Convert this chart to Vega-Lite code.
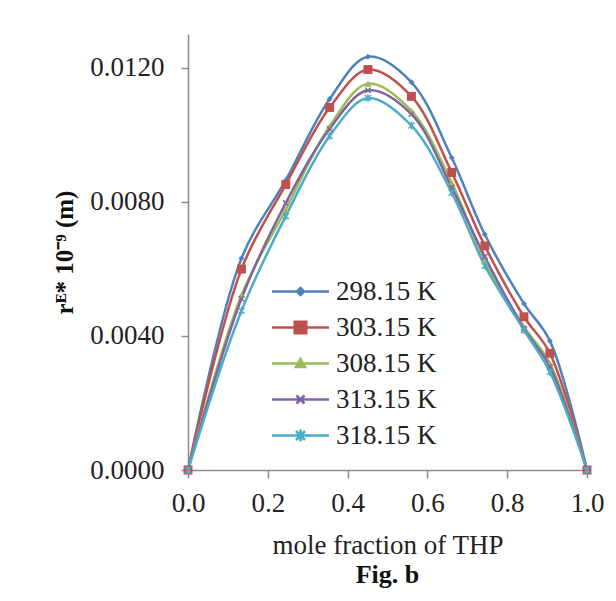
{
  "$schema": "https://vega.github.io/schema/vega-lite/v6.json",
  "autosize": {"type": "none"},
  "padding": {"left": 188, "top": 34, "right": 29, "bottom": 131},
  "width": 399,
  "height": 436,
  "background": "white",
  "title": {"text": "Fig. b", "orient": "bottom", "font": "Liberation Serif", "fontSize": 26, "fontWeight": "bold", "color": "#111", "offset": 4, "anchor": "middle"},
  "config": {"view": {"stroke": null}},
  "data": {"values": [
    {"x": 0, "T": "298.15 K", "y": 0},
    {"x": 0.134, "T": "298.15 K", "y": 0.00631},
    {"x": 0.245, "T": "298.15 K", "y": 0.00864},
    {"x": 0.355, "T": "298.15 K", "y": 0.01106},
    {"x": 0.451, "T": "298.15 K", "y": 0.01232},
    {"x": 0.56, "T": "298.15 K", "y": 0.01156},
    {"x": 0.661, "T": "298.15 K", "y": 0.00931},
    {"x": 0.744, "T": "298.15 K", "y": 0.00702},
    {"x": 0.842, "T": "298.15 K", "y": 0.00496},
    {"x": 0.907, "T": "298.15 K", "y": 0.00385},
    {"x": 1, "T": "298.15 K", "y": 0},
    {"x": 0, "T": "303.15 K", "y": 0},
    {"x": 0.134, "T": "303.15 K", "y": 0.00599},
    {"x": 0.245, "T": "303.15 K", "y": 0.00851},
    {"x": 0.355, "T": "303.15 K", "y": 0.01081},
    {"x": 0.451, "T": "303.15 K", "y": 0.01194},
    {"x": 0.56, "T": "303.15 K", "y": 0.01114},
    {"x": 0.661, "T": "303.15 K", "y": 0.00887},
    {"x": 0.744, "T": "303.15 K", "y": 0.00668},
    {"x": 0.842, "T": "303.15 K", "y": 0.00457},
    {"x": 0.907, "T": "303.15 K", "y": 0.00348},
    {"x": 1, "T": "303.15 K", "y": 0},
    {"x": 0, "T": "308.15 K", "y": 0},
    {"x": 0.134, "T": "308.15 K", "y": 0.00521},
    {"x": 0.245, "T": "308.15 K", "y": 0.00777},
    {"x": 0.355, "T": "308.15 K", "y": 0.01025},
    {"x": 0.451, "T": "308.15 K", "y": 0.01152},
    {"x": 0.56, "T": "308.15 K", "y": 0.01071},
    {"x": 0.661, "T": "308.15 K", "y": 0.00857},
    {"x": 0.744, "T": "308.15 K", "y": 0.00622},
    {"x": 0.842, "T": "308.15 K", "y": 0.00427},
    {"x": 0.907, "T": "308.15 K", "y": 0.00318},
    {"x": 1, "T": "308.15 K", "y": 0},
    {"x": 0, "T": "313.15 K", "y": 0},
    {"x": 0.134, "T": "313.15 K", "y": 0.00511},
    {"x": 0.245, "T": "313.15 K", "y": 0.00796},
    {"x": 0.355, "T": "313.15 K", "y": 0.01017},
    {"x": 0.451, "T": "313.15 K", "y": 0.01132},
    {"x": 0.56, "T": "313.15 K", "y": 0.01061},
    {"x": 0.661, "T": "313.15 K", "y": 0.00842},
    {"x": 0.744, "T": "313.15 K", "y": 0.00636},
    {"x": 0.842, "T": "313.15 K", "y": 0.00422},
    {"x": 0.907, "T": "313.15 K", "y": 0.00308},
    {"x": 1, "T": "313.15 K", "y": 0},
    {"x": 0, "T": "318.15 K", "y": 0},
    {"x": 0.134, "T": "318.15 K", "y": 0.00475},
    {"x": 0.245, "T": "318.15 K", "y": 0.00757},
    {"x": 0.355, "T": "318.15 K", "y": 0.00996},
    {"x": 0.451, "T": "318.15 K", "y": 0.01109},
    {"x": 0.56, "T": "318.15 K", "y": 0.01027},
    {"x": 0.661, "T": "318.15 K", "y": 0.00827},
    {"x": 0.744, "T": "318.15 K", "y": 0.00609},
    {"x": 0.842, "T": "318.15 K", "y": 0.00417},
    {"x": 0.907, "T": "318.15 K", "y": 0.00292},
    {"x": 1, "T": "318.15 K", "y": 0}
  ]},
  "encoding": {
    "x": {"field": "x", "type": "quantitative", "scale": {"domain": [0, 1], "nice": false, "zero": false},
      "axis": {"title": "mole fraction of THP", "values": [0, 0.2, 0.4, 0.6, 0.8, 1.0], "format": ".1f", "grid": false,
        "domainColor": "#8c8c8c", "domainWidth": 1.5, "tickColor": "#8c8c8c", "tickWidth": 1.5, "tickSize": 8,
        "labelFont": "Liberation Serif", "labelFontSize": 27, "labelColor": "#222", "labelPadding": 12, "labelFlush": false,
        "titleFont": "Liberation Serif", "titleFontSize": 27, "titleFontWeight": "normal", "titleColor": "#222", "titlePadding": 16}},
    "y": {"field": "y", "type": "quantitative", "scale": {"domain": [0, 0.013], "nice": false},
      "axis": {"title": "rᴱ* 10⁻⁹ (m)", "values": [0, 0.004, 0.008, 0.012], "format": ".4f", "grid": false,
        "domainColor": "#8c8c8c", "domainWidth": 1.5, "tickColor": "#8c8c8c", "tickWidth": 1.5, "tickSize": 7,
        "labelFont": "Liberation Serif", "labelFontSize": 27, "labelColor": "#222", "labelPadding": 17, "labelFlush": false,
        "titleFont": "Liberation Serif", "titleFontSize": 25, "titleFontWeight": "bold", "titleColor": "#111", "titlePadding": 12}},
    "color": {"field": "T", "type": "nominal",
      "scale": {"domain": ["298.15 K", "303.15 K", "308.15 K", "313.15 K", "318.15 K"], "range": ["#4F81BD", "#C0504D", "#9BBB59", "#8064A2", "#4BACC6"]},
      "legend": null}
  },
  "layer": [
    {
      "mark": {"type": "line", "interpolate": "catmull-rom", "strokeWidth": 2.5},
      "encoding": {
        "color": {"field": "T", "type": "nominal",
          "legend": {"orient": "none", "legendX": 99, "legendY": 244, "title": null, "padding": 0,
            "symbolSize": 100, "symbolStrokeWidth": 2.5, "labelOffset": 22, "rowPadding": 8,
            "labelFont": "Liberation Serif", "labelFontSize": 27, "labelColor": "#222", "labelLimit": 300,
            "encode": {"symbols": {"update": {
              "shape": {"signal": "datum.value === '298.15 K' ? 'M-5.7,0H5.7M0,-0.7L0.7,0L0,0.7L-0.7,0Z' : datum.value === '303.15 K' ? 'M-5.7,0H5.7M-1.15,-1.15H1.15V1.15H-1.15Z' : datum.value === '308.15 K' ? 'M-5.7,0H5.7M0,-0.9L0.9,0.7H-0.9Z' : datum.value === '313.15 K' ? 'M-5.7,0H5.7M-0.8,-0.8L0.8,0.8M-0.8,0.8L0.8,-0.8' : 'M-5.7,0H5.7M-0.9,-0.9L0.9,0.9M-0.9,0.9L0.9,-0.9M0,-1.2V1.2'"},
              "fill": {"scale": "color", "field": "value"},
              "stroke": {"scale": "color", "field": "value"},
              "strokeWidth": {"value": 2.5},
              "opacity": {"value": 1}
            }}}}}
      }
    },
    {
      "transform": [{"filter": "datum.T === '298.15 K'"}],
      "mark": {"type": "point", "shape": "diamond", "filled": true, "size": 35, "opacity": 1, "color": "#4F81BD"},
      "encoding": {"color": {"value": "#4F81BD"}}
    },
    {
      "transform": [{"filter": "datum.T === '303.15 K'"}],
      "mark": {"type": "point", "shape": "square", "filled": true, "size": 80, "opacity": 1, "color": "#C0504D"},
      "encoding": {"color": {"value": "#C0504D"}}
    },
    {
      "transform": [{"filter": "datum.T === '308.15 K'"}],
      "mark": {"type": "point", "shape": "triangle-up", "filled": true, "size": 50, "opacity": 1, "color": "#9BBB59"},
      "encoding": {"color": {"value": "#9BBB59"}}
    },
    {
      "transform": [{"filter": "datum.T === '313.15 K'"}],
      "mark": {"type": "point", "shape": "M-0.8,-0.8L0.8,0.8M-0.8,0.8L0.8,-0.8", "filled": false, "strokeWidth": 1.5, "size": 45, "opacity": 1, "color": "#8064A2"},
      "encoding": {"color": {"value": "#8064A2"}}
    },
    {
      "transform": [{"filter": "datum.T === '318.15 K'"}],
      "mark": {"type": "point", "shape": "M-0.9,-0.9L0.9,0.9M-0.9,0.9L0.9,-0.9M0,-1.2V1.2", "filled": false, "strokeWidth": 1.5, "size": 45, "opacity": 1, "color": "#4BACC6"},
      "encoding": {"color": {"value": "#4BACC6"}}
    }
  ]
}
